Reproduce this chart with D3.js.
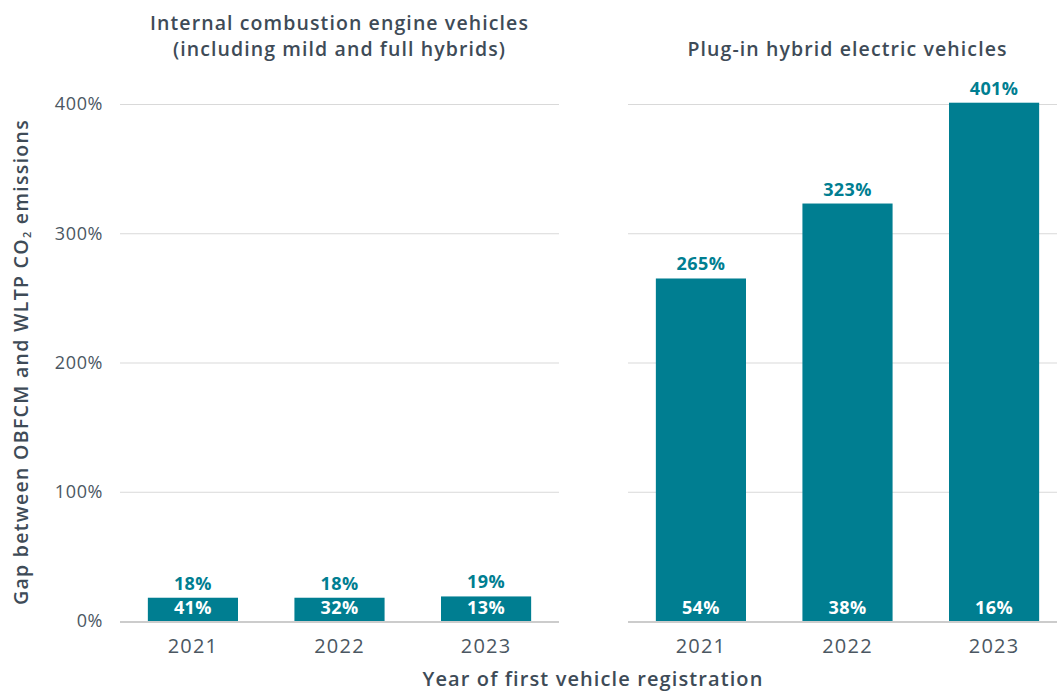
<!DOCTYPE html>
<html>
<head>
<meta charset="utf-8">
<script src="https://cdn.jsdelivr.net/npm/d3@7"></script>
<style>
  html, body { margin: 0; padding: 0; background: #fff; }
  svg { display: block; }
  text { font-family: "Open Sans", "Noto Sans", sans-serif; }
</style>
</head>
<body>
<svg id="chart" width="1057" height="691"></svg>
<script>
// Years of first registration
const years = ["2021", "2022", "2023"];
// Panel titles (each line separately)
const iceTitle = ["Internal combustion engine vehicles", "(including mild and full hybrids)"];
const phevTitle = ["Plug-in hybrid electric vehicles"];
// Gap between OBFCM and WLTP CO2 emissions (%), shown as bar height
const iceGap = [18, 18, 19];
const phevGap = [265, 323, 401];
// Secondary share shown inside each bar (%)
const iceInner = [41, 32, 13];
const phevInner = [54, 38, 16];
// Y-axis ticks
const yTicks = [0, 100, 200, 300, 400];

const teal = "#007e91";
const textDark = "#3e4b57";
const gridCol = "#d9d9d9";

const svg = d3.select("#chart");

const y = d3.scaleLinear().domain([0, 400]).range([621, 104]);

const panels = [
  { x0: 120, x1: 559, title: iceTitle, gap: iceGap, inner: iceInner },
  { x0: 628, x1: 1067, title: phevTitle, gap: phevGap, inner: phevInner }
];

// Tick labels on the left only
const yAxis = d3.axisLeft(y).tickValues(yTicks).tickFormat(d => d + "%").tickSize(0).tickPadding(0);
const ya = svg.append("g").attr("transform", "translate(103,0)").call(yAxis);
ya.select(".domain").remove();
ya.selectAll("text")
  .attr("fill", "#4b5762")
  .style("font-size", "18px")
  .style("letter-spacing", "0.6px")
  .style("font-family", "'Open Sans', sans-serif");

panels.forEach((p, pi) => {
  const g = svg.append("g");
  const x = d3.scaleBand().domain(years).range([p.x0, p.x1]).paddingInner(0.385).paddingOuter(0.19);

  // Horizontal gridlines
  g.selectAll("line.grid")
    .data(yTicks.filter(t => t > 0))
    .join("line")
    .attr("class", "grid")
    .attr("x1", p.x0).attr("x2", p.x1)
    .attr("y1", d => y(d) + 0.5).attr("y2", d => y(d) + 0.5)
    .attr("stroke", gridCol).attr("stroke-width", 1);

  // Bars
  g.selectAll("rect.bar")
    .data(years.map((yr, i) => ({ yr, v: p.gap[i], inner: p.inner[i] })))
    .join("rect")
    .attr("class", "bar")
    .attr("x", d => x(d.yr))
    .attr("width", x.bandwidth())
    .attr("y", d => y(d.v))
    .attr("height", d => y(0) - y(d.v))
    .attr("fill", teal);

  // Baseline
  g.append("line")
    .attr("x1", p.x0).attr("x2", Math.min(p.x1, 1057))
    .attr("y1", y(0) + 1).attr("y2", y(0) + 1)
    .attr("stroke", "#cccccc").attr("stroke-width", 2);

  // Value labels above bars
  g.selectAll("text.val")
    .data(years.map((yr, i) => ({ yr, v: p.gap[i] })))
    .join("text")
    .attr("class", "val")
    .attr("x", d => x(d.yr) + x.bandwidth() / 2)
    .attr("y", d => y(d.v) - 8)
    .attr("text-anchor", "middle")
    .attr("fill", teal)
    .style("font-size", "18px")
    .style("font-weight", 700)
    .style("letter-spacing", "0.4px")
    .text(d => d.v + "%");

  // Inner labels
  g.selectAll("text.inner")
    .data(years.map((yr, i) => ({ yr, v: p.inner[i] })))
    .join("text")
    .attr("class", "inner")
    .attr("x", d => x(d.yr) + x.bandwidth() / 2)
    .attr("y", 614)
    .attr("text-anchor", "middle")
    .attr("fill", "#ffffff")
    .style("font-size", "18px")
    .style("font-weight", 700)
    .style("letter-spacing", "0.4px")
    .text(d => d.v + "%");

  // Year labels
  const xAxis = d3.axisBottom(x).tickSize(0).tickPadding(0);
  const xa = g.append("g").attr("transform", "translate(0,653)").call(xAxis);
  xa.select(".domain").remove();
  xa.selectAll("text")
    .attr("dy", 0)
    .attr("fill", "#4b5762")
    .style("font-size", "20px")
    .style("letter-spacing", "1.2px")
    .style("font-family", "'Open Sans', sans-serif");

  // Panel title
  const cx = (x(years[0]) + x(years[2]) + x.bandwidth()) / 2;
  const lines = p.title;
  const baseY = lines.length === 2 ? 30 : 56;
  lines.forEach((ln, li) => {
    g.append("text")
      .attr("x", cx)
      .attr("y", baseY + li * 26)
      .attr("text-anchor", "middle")
      .attr("fill", textDark)
      .style("font-size", "19.5px")
      .style("font-weight", 600)
      .style("letter-spacing", "1.1px")
      .text(ln);
  });
});

// Y-axis title with subscript
const yt = svg.append("text")
  .attr("transform", "translate(28,362) rotate(-90)")
  .attr("text-anchor", "middle")
  .attr("fill", textDark)
  .style("font-size", "19.5px")
  .style("font-weight", 600)
  .style("letter-spacing", "1.3px");
yt.append("tspan").text("Gap between OBFCM and WLTP CO");
yt.append("tspan").attr("baseline-shift", "-25%").style("font-size", "11px").text("2");
yt.append("tspan").text(" emissions");

// X-axis title
svg.append("text")
  .attr("x", 593)
  .attr("y", 686)
  .attr("text-anchor", "middle")
  .attr("fill", textDark)
  .style("font-size", "20px")
  .style("font-weight", 600)
  .style("letter-spacing", "1.1px")
  .text("Year of first vehicle registration");
</script>
</body>
</html>
